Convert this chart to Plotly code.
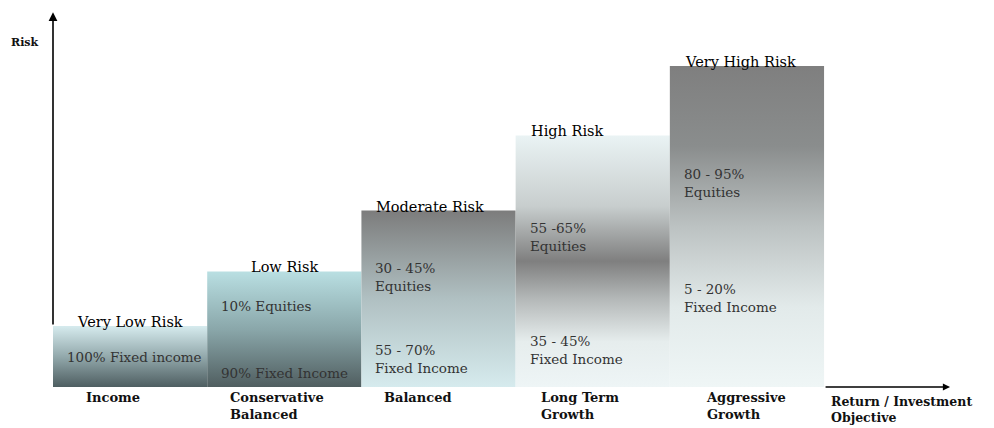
import plotly.graph_objects as go

# ---------------- data ----------------
categories = ["Income", "Conservative<br>Balanced", "Balanced", "Long Term<br>Growth", "Aggressive<br>Growth"]
risk_labels = ["Very Low Risk", "Low Risk", "Moderate Risk", "High Risk", "Very High Risk"]
risk_level = [0.95, 1.80, 2.75, 3.92, 5.00]
equities_text = [None, "10% Equities", "30 - 45%<br>Equities", "55 -65%<br>Equities", "80 - 95%<br>Equities"]
fixed_text = ["100% Fixed income", "90% Fixed Income", "55 - 70%<br>Fixed Income", "35 - 45%<br>Fixed Income", "5 - 20%<br>Fixed Income"]
y_axis_title = "Risk"
x_axis_title = "Return / Investment<br>Objective"

# ---------------- styles ----------------
gradients = [  # bottom -> top
    [[0, "#4e5e61"], [0.5, "#93a9ac"], [1, "#d6ebee"]],
    [[0, "#505e60"], [0.5, "#8aa7aa"], [1, "#b9dfe2"]],
    [[0, "#d6ebee"], [0.5, "#b0c0c2"], [1, "#7c7c7c"]],
    [[0, "#eef5f6"], [0.18, "#e6eded"], [0.35, "#b4b8b8"], [0.5, "#7f7f7f"], [0.72, "#c8cece"], [1, "#eaf3f4"]],
    [[0, "#eff6f6"], [0.25, "#e2eaea"], [0.5, "#bcc2c2"], [0.75, "#8a8d8d"], [1, "#7f7f7f"]],
]
title_align = ["center", "center", "left", "left", "left"]
cat_shift = [31, 21, 21, 23, 34]
eq_y = [None, 1.26, 1.72, 2.33, 3.185]
fi_y = [0.467, 0.218, 0.436, 0.569, 1.394]
SERIF = "DejaVu Serif"

fig = go.Figure()
for i, h in enumerate(risk_level):
    fig.add_trace(go.Scatter(
        x=[i - 0.5, i + 0.5, i + 0.5, i - 0.5, i - 0.5],
        y=[0, 0, h, h, 0],
        mode="lines", line=dict(width=0), fill="toself",
        fillgradient=dict(type="vertical", colorscale=gradients[i]),
        hoverinfo="skip", showlegend=False,
    ))

ann = []
for i, h in enumerate(risk_level):
    if title_align[i] == "center":
        ann.append(dict(x=i, y=h, text=risk_labels[i], xanchor="center", yanchor="middle",
                        yshift=4, showarrow=False, font=dict(family=SERIF, size=14.5, color="#000")))
    else:
        ann.append(dict(x=i - 0.5, y=h, text=risk_labels[i], xanchor="left", yanchor="middle",
                        xshift=13, yshift=4, showarrow=False, font=dict(family=SERIF, size=14.5, color="#000")))
    if equities_text[i]:
        ann.append(dict(x=i - 0.5, y=eq_y[i], text=equities_text[i], xanchor="left", yanchor="middle",
                        align="left", xshift=12, showarrow=False,
                        font=dict(family=SERIF, size=13.5, color="#333")))
    ann.append(dict(x=i - 0.5, y=fi_y[i], text=fixed_text[i], xanchor="left", yanchor="middle",
                    align="left", xshift=12, showarrow=False,
                    font=dict(family=SERIF, size=13.5, color="#333")))
    ann.append(dict(x=i - 0.5, y=0, text="<b>%s</b>" % categories[i], xanchor="left", yanchor="top",
                    align="left", xshift=cat_shift[i], yshift=-1, showarrow=False,
                    font=dict(family=SERIF, size=13, color="#111")))

# axis arrows
ann.append(dict(x=-0.5, y=5.84, ax=-0.5, ay=risk_level[0], xref="x", yref="y", axref="x", ayref="y",
                text="", showarrow=True, arrowhead=2, arrowsize=1.1, arrowwidth=1.6, arrowcolor="#000"))
ann.append(dict(x=5.317, y=0, ax=4.5, ay=0, xref="x", yref="y", axref="x", ayref="y",
                text="", showarrow=True, arrowhead=2, arrowsize=1.1, arrowwidth=1.3, arrowcolor="#000"))
ann.append(dict(x=-0.5, y=5.37, text="<b>%s</b>" % y_axis_title, xanchor="left", yanchor="middle",
                xshift=-44, showarrow=False, font=dict(family=SERIF, size=11, color="#111")))
ann.append(dict(x=4.532, y=0, text="<b>%s</b>" % x_axis_title, xanchor="left", yanchor="top",
                align="left", yshift=-5, showarrow=False, font=dict(family=SERIF, size=12.5, color="#111")))

fig.update_layout(
    width=994, height=428,
    margin=dict(l=53, r=0, t=0, b=41),
    paper_bgcolor="white", plot_bgcolor="white",
    xaxis=dict(range=[-0.5, 5.602], visible=False, fixedrange=True),
    yaxis=dict(range=[0, 6.03], visible=False, fixedrange=True),
    annotations=ann, showlegend=False,
)
fig.write_html("out.html")
